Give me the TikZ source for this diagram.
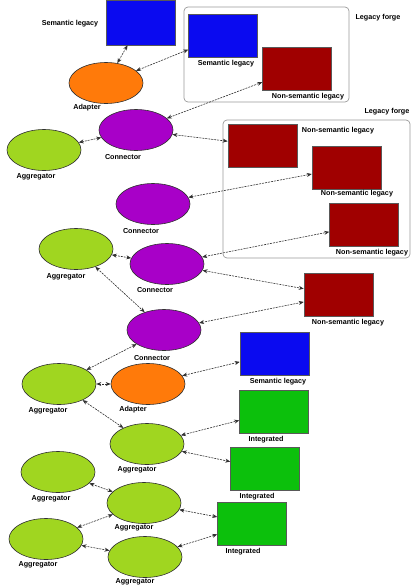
\documentclass[tikz,border=0pt]{standalone}
\usepackage{fontspec}
\setmainfont{Liberation Sans}
\usepackage{xcolor}
\usepackage{tikz}
\usetikzlibrary{arrows.meta,shapes.geometric}
\definecolor{SemBlue}{HTML}{0A0AF0}
\definecolor{LegRed}{HTML}{A00000}
\definecolor{IntGreen}{HTML}{0CC00C}
\definecolor{AdOrange}{HTML}{FF7A0A}
\definecolor{ConPurple}{HTML}{A800C8}
\definecolor{AggLime}{HTML}{A0D620}
\definecolor{Ink}{HTML}{303030}

\begin{document}
\begin{tikzpicture}[x=1pt,y=-1pt,
  blob/.style={ellipse,draw=Ink,line width=0.6pt,minimum width=74pt,
    minimum height=41pt,inner sep=0pt},
  adapter/.style={blob,fill=AdOrange},
  connector/.style={blob,fill=ConPurple},
  aggregator/.style={blob,fill=AggLime},
  legacybox/.style={draw=Ink!80,line width=0.5pt,minimum width=69pt,
    minimum height=43pt,inner sep=0pt},
  semantic/.style={legacybox,fill=SemBlue},
  nonsem/.style={legacybox,fill=LegRed},
  integ/.style={legacybox,fill=IntGreen},
  forge/.style={draw=gray!80,line width=0.7pt,rounded corners=4pt},
  lbl/.style={font=\fontsize{7.2}{8}\selectfont\bfseries,inner sep=0pt},
  link/.style={{Stealth[length=5pt,width=4pt]}-{Stealth[length=5pt,width=4pt]},
    line width=0.6pt,color=Ink,dash pattern=on 2pt off 1pt}
]
\useasboundingbox (0,0) rectangle (412,587);

% Top: adapter and the first legacy forge.
\node[semantic,minimum height=45pt] (sl0) at (140.5,22.5) {};
\node[lbl] (sl0t) at (70,24) {Semantic legacy};
\node[adapter] (ad1) at (106,83) {};
\node[lbl] (ad1t) at (87,108) {Adapter};
\draw[forge] (184,7) rectangle (349,102);
\node[lbl] (lf1t) at (378,18) {Legacy forge};
\node[semantic] (sl1) at (223,35.5) {};
\node[lbl] (sl1t) at (226,64) {Semantic legacy};
\node[nonsem] (nl1) at (297,69) {};
\node[lbl] (nl1t) at (308,97) {Non-semantic legacy};
\draw[link] (sl0)--(ad1);
\draw[link] (ad1)--(sl1);

% Connectors and the second legacy forge.
\node[connector] (cn1) at (136,130) {};
\node[lbl] (cn1t) at (123,157) {Connector};
\node[aggregator] (ag1) at (44,150) {};
\node[lbl] (ag1t) at (36,177) {Aggregator};
\draw[forge] (223,120) rectangle (410,258);
\node[lbl] (lf2t) at (387,112) {Legacy forge};
\node[nonsem] (nl2) at (262.5,145.5) {};
\node[lbl] (nl2t) at (338,131) {Non-semantic legacy};
\node[nonsem] (nl3) at (346.5,167.5) {};
\node[lbl] (nl3t) at (357,194) {Non-semantic legacy};
\node[nonsem] (nl4) at (364,225) {};
\node[lbl] (nl4t) at (372,253) {Non-semantic legacy};
\node[connector] (cn2) at (153,204) {};
\node[lbl] (cn2t) at (141,231) {Connector};
\node[aggregator] (ag2) at (76,249) {};
\node[lbl] (ag2t) at (66,277) {Aggregator};
\node[connector] (cn3) at (167,264) {};
\node[lbl] (cn3t) at (155,290) {Connector};
\node[nonsem] (nl5) at (338.5,295) {};
\node[lbl] (nl5t) at (348,323) {Non-semantic legacy};
\node[connector] (cn4) at (164,330) {};
\node[lbl] (cn4t) at (152,358) {Connector};
\draw[link] (cn1)--(nl1);
\draw[link] (ag1)--(cn1);
\draw[link] (cn1)--(nl2);
\draw[link] (cn2)--(nl3);
\draw[link] (ag2)--(cn3);
\draw[link] (cn3)--(nl4);
\draw[link] (cn3)--(nl5);
\draw[link] (ag2)--(cn4);
\draw[link] (cn4)--(nl5);

% Bottom: aggregators and integrated sources.
\node[semantic] (sl2) at (274.5,353.5) {};
\node[lbl] (sl2t) at (278,382) {Semantic legacy};
\node[aggregator] (ag3) at (59,384) {};
\node[lbl] (ag3t) at (48,411) {Aggregator};
\node[adapter] (ad2) at (148,384) {};
\node[lbl] (ad2t) at (133,410) {Adapter};
\node[aggregator] (ag4) at (147,444) {};
\node[lbl] (ag4t) at (137,470) {Aggregator};
\node[integ] (in1) at (274,411.5) {};
\node[lbl] (in1t) at (266,440) {Integrated};
\node[integ] (in2) at (265,469) {};
\node[lbl] (in2t) at (257,497) {Integrated};
\node[aggregator] (ag5) at (58,472) {};
\node[lbl] (ag5t) at (51,499) {Aggregator};
\node[aggregator] (ag6) at (144,503) {};
\node[lbl] (ag6t) at (134,528) {Aggregator};
\node[integ] (in3) at (252,523.5) {};
\node[lbl] (in3t) at (243,552) {Integrated};
\node[aggregator] (ag7) at (46,539) {};
\node[lbl] (ag7t) at (38,565) {Aggregator};
\node[aggregator] (ag8) at (145,557) {};
\node[lbl] (ag8t) at (135,582) {Aggregator};
\draw[link] (cn4)--(ag3);
\draw[link] (ag3)--(ad2);
\draw[link] (ad2)--(sl2);
\draw[link] (ag3)--(ag4);
\draw[link] (ag4)--(in1);
\draw[link] (ag4)--(in2);
\draw[link] (ag5)--(ag6);
\draw[link] (ag6)--(in3);
\draw[link] (ag7)--(ag6);
\draw[link] (ag7)--(ag8);
\draw[link] (ag8)--(in3);
\end{tikzpicture}
\end{document}
